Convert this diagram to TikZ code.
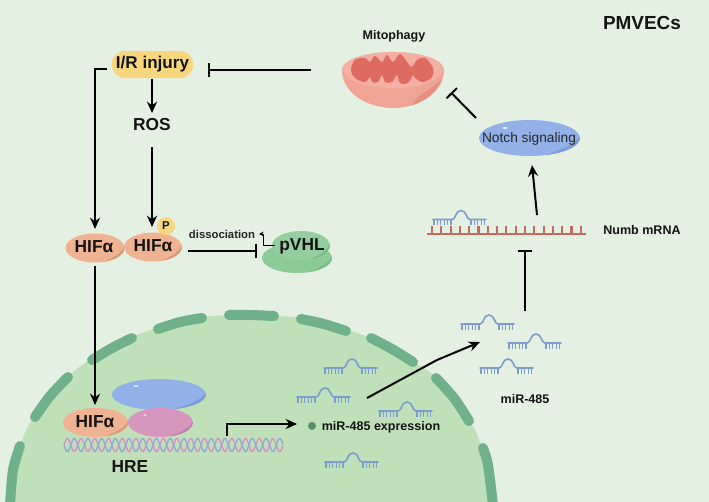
\documentclass[tikz,border=0pt]{standalone}
\usepackage{fontspec}
\setmainfont{Liberation Sans}
\usetikzlibrary{arrows.meta}
\definecolor{bgc}{HTML}{E4F0E2}
\definecolor{nucc}{HTML}{C0E0B9}
\definecolor{memc}{HTML}{70B08A}
\definecolor{hifc}{HTML}{EFB293}
\definecolor{hifd}{HTML}{D99A78}
\definecolor{bluec}{HTML}{94B0E8}
\definecolor{blued}{HTML}{7F9AD8}
\definecolor{pinkc}{HTML}{D696BE}
\definecolor{pinkd}{HTML}{C480AC}
\definecolor{grc}{HTML}{8CCB97}
\definecolor{grd}{HTML}{7ABD88}
\definecolor{yelc}{HTML}{F8D67E}
\definecolor{mirc}{HTML}{7F9CD0}
\definecolor{mrnac}{HTML}{C8685C}
\definecolor{mitoa}{HTML}{EFA496}
\definecolor{mitob}{HTML}{E68F80}
\definecolor{mitol}{HTML}{F3AFA3}
\definecolor{mitoc}{HTML}{DE6A61}
\tikzset{
  x=0.75pt,y=-0.75pt,
  arr/.style={line width=1.5pt,-{Stealth[length=8.5pt,width=7.5pt]}},
  inh/.style={line width=1.5pt,-{Bar[width=11pt,line width=1.5pt]}},
  lab/.style={text=black!92,inner sep=0pt},
  big/.style={lab,font=\bfseries\fontsize{13}{15}\selectfont},
  small/.style={lab,font=\bfseries\fontsize{9.4}{11}\selectfont},
  membrane/.style={draw=memc,line width=7.5pt,line cap=round},
  pics/mirna/.style={code={
    \draw[mirc,line width=1.2pt,line cap=round]
      (0,0) -- (19,0) .. controls (23,0) and (22,-9) .. (28,-9) .. controls (34,-9) and (33,0) .. (37,0) -- (53,0);
    \foreach \k in {1,4.4,...,18} \draw[mirc,line width=1pt] (\k,0) -- (\k,5.5);
    \foreach \k in {38,41.4,...,53} \draw[mirc,line width=1pt] (\k,0) -- (\k,5.5);
  }}
}
% ellipse with a darker crescent along its lower right edge:
% centre x, centre y, x radius, y radius, fill, shade
\newcommand{\blob}[6]{%
  \begin{scope}
    \clip (#1,#2) ellipse [x radius=#3*0.75pt,y radius=#4*0.75pt];
    \fill[#5] (#1,#2) ellipse [x radius=#3*0.75pt,y radius=#4*0.75pt];
    \fill[#6] (#1+#3,#2+#4) -- (#1+0.25*#3,#2+#4) .. controls (#1+0.55*#3,#2+0.72*#4) and (#1+0.85*#3,#2+0.5*#4) .. (#1+#3,#2-0.1*#4) -- cycle;
  \end{scope}}
\begin{document}
\begin{tikzpicture}
\useasboundingbox (0,0) rectangle (709,502);
\fill[bgc] (0,0) rectangle (709,502);

% nucleus body
\fill[nucc] plot[smooth] coordinates {(10,502) (13,470) (20,446) (33,418) (68,377) (90,360) (133,337) (157,328) (203,317) (250,315) (300,318) (347,330) (370,338) (413,362) (435,377) (470,422) (482,447) (492,477) (496,502)};

% nuclear membrane segments
\draw[membrane] plot[smooth] coordinates {(92,360) (112,348) (132,338)};
\draw[membrane] plot[smooth] coordinates {(158,329) (180,322) (202,318)};
\draw[membrane] plot[smooth] coordinates {(229,315) (251,315) (274,316)};
\draw[membrane] plot[smooth] coordinates {(301,319) (324,324) (346,331)};
\draw[membrane] plot[smooth] coordinates {(371,338) (392,349) (413,362)};
\draw[membrane] plot[smooth] coordinates {(436,378) (454,398) (469,421)};
\draw[membrane] plot[smooth] coordinates {(483,448) (488,465) (493,505)};
\draw[membrane] plot[smooth] coordinates {(68,377) (50,396) (35,417)};
\draw[membrane] plot[smooth] coordinates {(20,446) (13,470) (10,505)};

% titles
\node[lab,font=\bfseries\fontsize{14.2}{16}\selectfont] (cell) at (642,23) {PMVECs};
\node[small] (mitolab) at (394,36) {Mitophagy};

% mitochondrion
\fill[mitoa] (342,70) .. controls (342,60) and (365,52) .. (393,52) .. controls (421,52) and (444,60) .. (444,70) .. controls (444,92) and (420,108) .. (393,108) .. controls (366,108) and (342,92) .. (342,70) -- cycle;
\fill[mitob] (412,105) .. controls (416,96) and (430,90) .. (441,80) .. controls (436,92) and (426,101) .. (412,105) -- cycle;
\fill[mitol] (342,70) .. controls (342,60) and (365,52) .. (393,52) .. controls (421,52) and (444,60) .. (444,70) .. controls (438,82) and (420,88) .. (393,88) .. controls (366,88) and (348,82) .. (342,70) -- cycle;
\fill[mitoc] plot[smooth cycle,tension=0.6] coordinates {(351,70) (355,60) (365,58) (370,62) (375,56) (382,62) (387,55) (393,62) (400,54) (407,62) (412,67) (417,60) (425,58) (433,68) (432,77) (423,82) (415,78) (413,75) (408,83) (400,83) (397,75) (392,82) (385,82) (382,75) (378,82) (372,82) (370,77) (365,82) (355,78)};

% Notch
\blob{529.5}{138}{50.5}{18}{bluec}{blued}
\fill[white!80!bluec] (505,128) ellipse [x radius=2pt,y radius=0.7pt];
\node[font=\fontsize{10.3}{12}\selectfont,text=black!85,inner sep=0pt] (notch) at (529,139) {Notch signaling};
\coordinate (notchbot) at (532,165);

% injury and ROS
\node[fill=yelc,rounded corners=10pt,minimum width=61pt,minimum height=20.5pt,inner sep=0pt,lab,font=\bfseries\fontsize{12.8}{15}\selectfont] (ir) at (152.5,64.5) {I/R injury};
\node[big] (ros) at (152,125) {ROS};

% HIF blobs
\blob{95}{248}{29.5}{14.5}{hifc}{hifd}
\node[big] (hifa) at (94,247) {HIFα};
\blob{153}{247}{29}{14.5}{hifc}{hifd}
\node[big] (hifb) at (153,246) {HIFα};
\node[circle,fill=yelc,minimum size=13.5pt,inner sep=0pt,lab,font=\bfseries\fontsize{8.5}{10}\selectfont] (phos) at (166,226) {P};

% pVHL
\blob{297}{258}{35}{15}{grc}{grd}
\blob{301}{245.5}{29}{14.5}{grc!92!white}{grd}
\node[lab,font=\bfseries\fontsize{13}{15}\selectfont] (pvhl) at (302,246) {pVHL};
\node[lab,font=\bfseries\fontsize{8.5}{10}\selectfont,text=black!85] (dis) at (222,234) {dissociation};
\coordinate (disstart) at (188,251);
\coordinate (disend) at (257,251);
\coordinate (el1) at (275,245);
\coordinate (el2) at (263,245);
\coordinate (el3) at (263,234);
\coordinate (el4) at (259,234);

% proteins on the DNA
\blob{159}{394.5}{47}{15.5}{bluec}{blued}
\fill[white!80!bluec] (136,386) ellipse [x radius=2pt,y radius=0.6pt];
\blob{160.5}{422.5}{32.5}{14.5}{pinkc}{pinkd}
\fill[white!80!pinkc] (145,415) ellipse [x radius=1.2pt,y radius=0.6pt];
\blob{95.5}{422.5}{32.5}{14.5}{hifc}{hifd}
\node[big] (hifn) at (95,422) {HIFα};

% DNA double helix
\draw[pinkc,line width=1.1pt] plot[domain=64:283,samples=220,smooth] (\x,{445-6.5*sin((\x-64)/13.7*360)});
\draw[mirc!85,line width=1.1pt] plot[domain=64:283,samples=220,smooth] (\x,{445+6.5*sin((\x-64)/13.7*360)});
\node[big] (hre) at (130,467) {HRE};
\coordinate (tss) at (227,436);
\coordinate (tssend) at (297,424);

\node[small] (expr) at (381,427) {miR-485 expression};
\node[circle,fill=memc!80!black,minimum size=6pt,inner sep=0pt] (dot) at (312,426) {};

% microRNA copies
\pic at (324,368) {mirna};
\pic at (297,397) {mirna};
\pic at (379,411) {mirna};
\pic at (325,462) {mirna};
\pic at (461,324) {mirna};
\pic at (508,343) {mirna};
\pic at (480,368) {mirna};
\node[small] (mirlab) at (525,399) {miR-485};

% Numb mRNA strand with a bound microRNA
\draw[mrnac,line width=1.4pt] (427,234) -- (586,234);
\foreach \k in {0,...,16} \draw[mrnac,line width=1.6pt] ({432+\k*9.3},234) -- ({432+\k*9.3},226);
\pic at (433,219.5) {mirna};
\node[small] (numb) at (642,230) {Numb mRNA};
\coordinate (numbtop) at (537,215);
\coordinate (numbbot) at (525,311);
\coordinate (numbbar) at (525,250);

% connectors
\draw[arr] (107,69.5) -- (95,69.5) -- (95,229);
\draw[arr] (152,79) -- (152,113);
\draw[arr] (152,147) -- (152,227);
\draw[arr] (95,266) -- (95,405);
\draw[inh] (311,70) -- (208,70);
\draw[inh] (476,118) -- (451,92.5);
\draw[arr] (numbtop) -- (notchbot);
\draw[inh] (numbbot) -- (numbbar);
\draw[inh] (disstart) -- (disend);
\draw[line width=0.7pt,-{Stealth[length=3.5pt,width=3.5pt]}] (el1) -- (el2) -- (el3) -- (el4);
\draw[arr] (tss) -- (tss |- tssend) -- (tssend);
\draw[arr] (367,398) -- (437,360) -- (480,342);
\end{tikzpicture}
\end{document}
